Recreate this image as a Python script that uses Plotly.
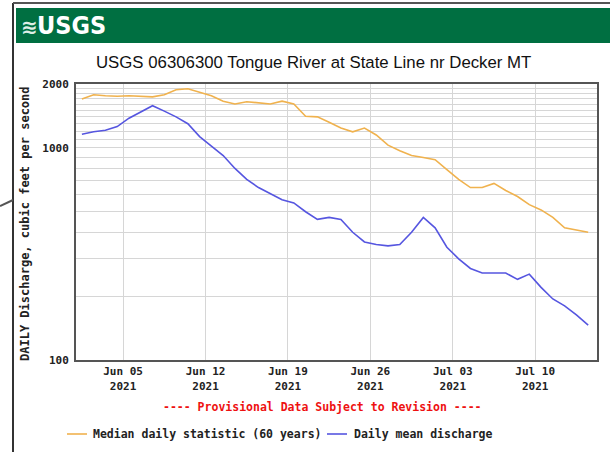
import pandas as pd
import plotly.graph_objects as go

# Daily values, 2021-06-01 .. 2021-07-14 (plotted at midday)
dates = pd.date_range("2021-06-01 12:00", periods=44, freq="D")

median_cfs = [1700, 1780, 1760, 1750, 1760, 1750, 1740, 1780, 1880, 1900,
              1830, 1760, 1660, 1610, 1650, 1630, 1610, 1660, 1610, 1410,
              1400, 1320, 1240, 1190, 1240, 1150, 1030, 970, 920, 900,
              880, 790, 710, 650, 650, 680, 630, 590, 540, 510,
              470, 420, 410, 400]

mean_cfs = [1160, 1190, 1210, 1260, 1380, 1480, 1580, 1490, 1400, 1300,
            1130, 1020, 920, 800, 710, 650, 610, 570, 550, 500,
            460, 470, 460, 400, 360, 350, 345, 350, 400, 470,
            420, 340, 300, 270, 257, 257, 257, 240, 254, 220,
            194, 180, 163, 146]

x_tick_dates = ["2021-06-05", "2021-06-12", "2021-06-19", "2021-06-26",
                "2021-07-03", "2021-07-10"]
x_tick_text = ["Jun 05<br>2021", "Jun 12<br>2021", "Jun 19<br>2021",
               "Jun 26<br>2021", "Jul 03<br>2021", "Jul 10<br>2021"]

y_grid = list(range(100, 1000, 100)) + list(range(1000, 2001, 100))
y_labels = {100: "100", 1000: "1000", 2000: "2000"}
y_text = [y_labels.get(v, "") for v in y_grid]

MEDIAN_COLOR = "#f0b24e"
MEAN_COLOR = "#5656e0"
MONO = "DejaVu Sans Mono"

W, H = 610, 452
L, R, T, B = 76, 597, 84, 360


def px(x):
    return (x - L) / (R - L)


def py(y):
    return (B - y) / (B - T)


def note(text, x, y, size, color="#222222", family=MONO, xanchor="center",
         **kw):
    return dict(text=text, x=px(x), y=py(y), xref="paper", yref="paper",
                xanchor=xanchor, yanchor="middle", showarrow=False,
                font=dict(family=family, size=size, color=color), **kw)


fig = go.Figure()
fig.add_trace(go.Scatter(x=dates, y=median_cfs, mode="lines",
                         line=dict(color=MEDIAN_COLOR, width=1.6),
                         name="Median daily statistic (60 years)"))
fig.add_trace(go.Scatter(x=dates, y=mean_cfs, mode="lines",
                         line=dict(color=MEAN_COLOR, width=1.6),
                         name="Daily mean discharge"))

shapes = [
    # page frame
    dict(type="line", xref="paper", yref="paper", x0=px(13), x1=px(13),
         y0=py(3), y1=py(452), line=dict(color="#333333", width=2)),
    dict(type="line", xref="paper", yref="paper", x0=px(13), x1=px(610),
         y0=py(3), y1=py(3), line=dict(color="#555555", width=2)),
    dict(type="line", xref="paper", yref="paper", x0=px(0), x1=px(13),
         y0=py(206), y1=py(200), line=dict(color="#555555", width=2)),
    # banner
    dict(type="rect", xref="paper", yref="paper", x0=px(16), x1=px(610),
         y0=py(8), y1=py(43), fillcolor="#006f41", line=dict(width=0),
         layer="below"),
    # legend keys
    dict(type="line", xref="paper", yref="paper", x0=px(67), x1=px(87),
         y0=py(434), y1=py(434), line=dict(color=MEDIAN_COLOR, width=1.6)),
    dict(type="line", xref="paper", yref="paper", x0=px(327), x1=px(347),
         y0=py(434), y1=py(434), line=dict(color=MEAN_COLOR, width=1.6)),
]

annotations = [
    note("<b>≋</b>", 19, 27, 20, color="#dfeee6",
         family="DejaVu Sans", xanchor="left"),
    note("<b>USGS</b>", 35, 26, 25, color="white",
         family="DejaVu Sans Condensed, Liberation Sans Narrow",
         xanchor="left"),
    note("USGS 06306300 Tongue River at State Line nr Decker MT", 313, 62,
         16.8, color="#111111", family="Liberation Sans"),
    note("<b>DAILY Discharge, cubic feet per second</b>", 25, 224, 12,
         textangle=-90),
    note("<b>---- Provisional Data Subject to Revision ----</b>", 322, 407,
         11.5, color="#ee1111"),
    note("<b>Median daily statistic (60 years)</b>", 91, 434, 11.5,
         xanchor="left"),
    note("<b>Daily mean discharge</b>", 352, 434, 11.5, xanchor="left"),
]

fig.update_layout(
    width=W, height=H,
    margin=dict(l=L, r=W - R, t=T, b=H - B),
    paper_bgcolor="white", plot_bgcolor="white",
    showlegend=False,
    shapes=shapes, annotations=annotations,
    xaxis=dict(
        range=["2021-06-01 00:00", "2021-07-15 06:00"],
        tickvals=x_tick_dates, ticktext=x_tick_text,
        showgrid=True, gridcolor="#d6d6d6", gridwidth=1.2,
        showline=True, mirror=True, linecolor="#555555", linewidth=2,
        ticks="", zeroline=False,
        tickfont=dict(family=MONO, size=11, color="#222222", weight="bold"),
    ),
    yaxis=dict(
        type="log", range=[2, 3.30103],
        tickvals=y_grid, ticktext=y_text,
        showgrid=True, gridcolor="#d6d6d6", gridwidth=1.2,
        showline=True, mirror=True, linecolor="#555555", linewidth=2,
        ticks="", zeroline=False, ticklabelstandoff=3,
        tickfont=dict(family=MONO, size=11, color="#222222", weight="bold"),
    ),
)

fig.write_html("out.html")
